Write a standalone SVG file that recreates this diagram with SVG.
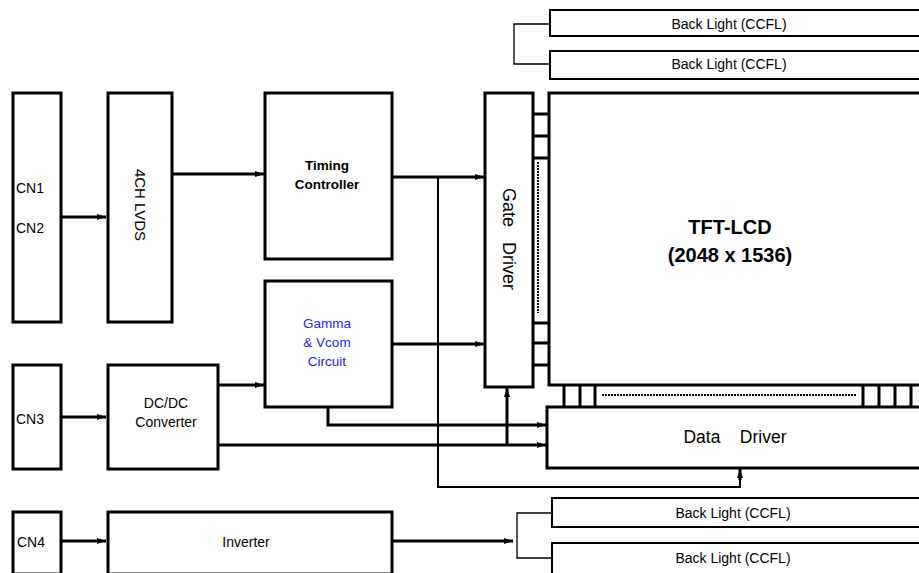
<svg xmlns="http://www.w3.org/2000/svg" width="919" height="573" viewBox="0 0 919 573">
<style>
.box{fill:#fff;stroke:#000;stroke-width:3}
.bl{fill:#fff;stroke:#000;stroke-width:2}
.t{font-family:"Liberation Sans",Arial,sans-serif;font-size:14px;fill:#000}
.c{text-anchor:middle}
.b{font-weight:bold}
.blue{fill:#2323e6}
.w{stroke:#000;stroke-width:3;fill:none}
.thin{stroke:#000;stroke-width:1.3;fill:none}
.mid{stroke:#000;stroke-width:2;fill:none}
</style>
<defs>
<marker id="ar" markerWidth="9" markerHeight="6" refX="9" refY="3" orient="auto" markerUnits="userSpaceOnUse">
<path d="M0,0 L9,3 L0,6 Z" fill="#000"/>
</marker>
</defs>
<rect width="919" height="573" fill="#fff"/>

<g id="connectors">
<line class="w" x1="61" y1="217" x2="106" y2="217" marker-end="url(#ar)"/>
<line class="w" x1="172" y1="174" x2="264" y2="174" marker-end="url(#ar)"/>
<line class="w" x1="392" y1="177" x2="484" y2="177" marker-end="url(#ar)"/>
<line class="w" x1="392" y1="344" x2="484" y2="344" marker-end="url(#ar)"/>
<polyline class="mid" points="438,177 438,487 740,487 740,478"/>
<line class="w" x1="740" y1="480" x2="740" y2="469" marker-end="url(#ar)"/>
<line class="w" x1="61" y1="417" x2="106" y2="417" marker-end="url(#ar)"/>
<line class="w" x1="218" y1="385" x2="264" y2="385" marker-end="url(#ar)"/>
<polyline class="w" points="328,407 328,425 546,425" marker-end="url(#ar)"/>
<line class="w" x1="218" y1="445" x2="546" y2="445" marker-end="url(#ar)"/>
<line class="w" x1="507" y1="445" x2="507" y2="388" marker-end="url(#ar)"/>
<line class="w" x1="61" y1="541" x2="106" y2="541" marker-end="url(#ar)"/>
<line class="w" x1="392" y1="541" x2="513" y2="541" marker-end="url(#ar)"/>
<polyline class="thin" points="552,513 517,513 517,558 552,558"/>
<polyline class="thin" points="550,24 514,24 514,64 550,64"/>
</g>

<g id="cn12"><rect class="box" x="13" y="93" width="48" height="229"/>
<text class="t" x="16" y="193">CN1</text><text class="t" x="16" y="233">CN2</text></g>
<g id="lvds"><rect class="box" x="108" y="93" width="64" height="229"/>
<text class="t c" transform="translate(135,205) rotate(90)" style="font-size:15px">4CH LVDS</text></g>
<g id="tcon"><rect class="box" x="265" y="93" width="127" height="166"/>
<text class="t c b" x="327" y="170" style="font-size:13.5px">Timing</text>
<text class="t c b" x="327" y="189" style="font-size:13.5px">Controller</text></g>
<g id="gamma"><rect class="box" x="265" y="281" width="127" height="126"/>
<text class="t c blue" x="327" y="328" style="font-size:13.5px">Gamma</text>
<text class="t c blue" x="327" y="347" style="font-size:13.5px">&amp; Vcom</text>
<text class="t c blue" x="327" y="366" style="font-size:13.5px">Circuit</text></g>
<g id="cn3"><rect class="box" x="13" y="365" width="48" height="104"/>
<text class="t" x="16" y="424">CN3</text></g>
<g id="dcdc"><rect class="box" x="108" y="365" width="110" height="104"/>
<text class="t c" x="166" y="408">DC/DC</text>
<text class="t c" x="166" y="427">Converter</text></g>
<g id="cn4"><rect class="box" x="13" y="512" width="48" height="62"/>
<text class="t" x="17" y="547">CN4</text></g>
<g id="inverter"><rect class="box" x="108" y="512" width="284" height="62"/>
<text class="t c" x="246" y="547">Inverter</text></g>

<g id="gate"><rect class="box" x="485" y="93" width="48" height="294"/>
<text class="t c" transform="translate(503,239) rotate(90)" style="font-size:18px;white-space:pre" xml:space="preserve">Gate   Driver</text></g>
<g id="panel"><rect class="box" x="549" y="93" width="400" height="292"/>
<text class="t c b" x="730" y="234" style="font-size:20px">TFT-LCD</text>
<text class="t c b" x="730" y="262" style="font-size:20px">(2048 x 1536)</text></g>
<g id="gate-stubs">
<path class="w" d="M533,114H549M533,136H549M533,158H549M533,323H549M533,343H549M533,365H549"/>
<line x1="538" y1="162" x2="538" y2="313" stroke="#000" stroke-width="2" stroke-dasharray="2,1"/>
</g>
<g id="data-stubs">
<path class="w" d="M564,385V407M580,385V407M595,385V407M863,385V407M879,385V407M895,385V407M911,385V407"/>
<line x1="602" y1="395" x2="856" y2="395" stroke="#000" stroke-width="2" stroke-dasharray="2,1"/>
</g>
<g id="data"><rect class="box" x="547" y="407" width="400" height="61"/>
<text class="t c" x="735" y="443" style="font-size:17.5px;white-space:pre" xml:space="preserve">Data    Driver</text></g>

<g id="bl1"><rect class="bl" x="550" y="10" width="400" height="26"/>
<text class="t c" x="729" y="29">Back Light (CCFL)</text></g>
<g id="bl2"><rect class="bl" x="550" y="51" width="400" height="28"/>
<text class="t c" x="729" y="69">Back Light (CCFL)</text></g>
<g id="bl3"><rect class="bl" x="552" y="498" width="400" height="29"/>
<text class="t c" x="733" y="518">Back Light (CCFL)</text></g>
<g id="bl4"><rect class="bl" x="552" y="543" width="400" height="40"/>
<text class="t c" x="733" y="563">Back Light (CCFL)</text></g>
</svg>
